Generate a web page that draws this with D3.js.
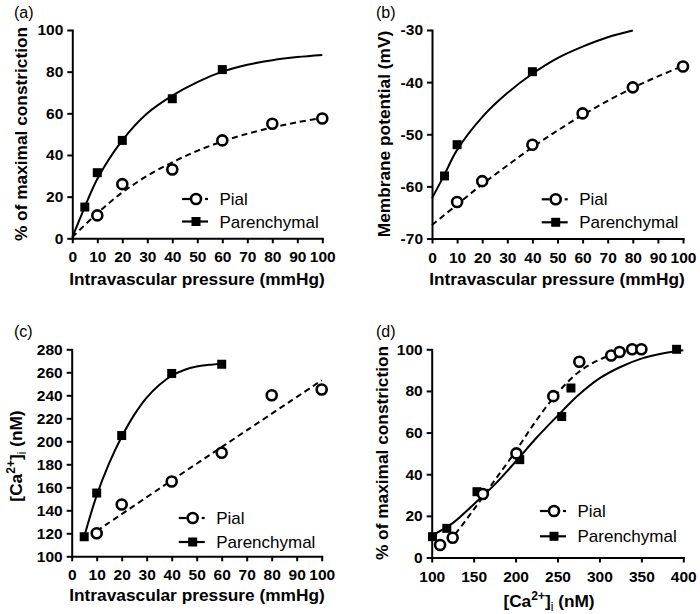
<!DOCTYPE html>
<html><head><meta charset="utf-8">
<script src="https://cdn.jsdelivr.net/npm/d3@7"></script>
<style>
body{margin:0;background:#fff}
text{font-family:"Liberation Sans",Arial,Helvetica,sans-serif}
</style>
</head><body>
<svg id="chart" width="700" height="614"></svg>
<script>
// ---------- DATA ----------
const seriesNames = ["Pial", "Parenchymal"];
const pressureTicks = [0,10,20,30,40,50,60,70,80,90,100];

// (a) % of maximal constriction vs pressure
const aPialX = [10,20,40,60,80,100];
const aPialY = [11,26,33,47,55,57.5];
const aParX  = [5,10,20,40,60];
const aParY  = [15,31.5,47,67,81];
const aPialFitX = [0,10,20,30,40,50,60,70,80,90,100];
const aPialFitY = [0.5,12,22,30,36.5,42,46.5,50.2,53.2,55.7,57.8];
const aParFitX  = [0,5,10,20,30,40,50,60,70,80,90,100];
const aParFitY  = [0.5,15,28.5,47,60,68.5,75,80,83.3,85.5,87,88];
const aYTicks = [0,20,40,60,80,100];

// (b) membrane potential vs pressure
const bPialX = [10,20,40,60,80,100];
const bPialY = [-63,-59,-52,-46,-41,-37];
const bParX  = [5,10,40];
const bParY  = [-58,-52,-38];
const bPialFitX = [0,10,20,30,40,50,60,70,80,90,100];
const bPialFitY = [-67.4,-63.5,-59.6,-56,-52.5,-49.3,-46.3,-43.6,-41.1,-38.9,-36.9];
const bParFitX  = [0,5,10,20,30,40,50,60,70,80];
const bParFitY  = [-62.3,-57.7,-53,-46.7,-42.1,-38.4,-35.4,-33.2,-31.4,-30.1];
const bYTicks = [-70,-60,-50,-40,-30];

// (c) [Ca2+]i vs pressure
const cPialX = [10,20,40,60,80,100];
const cPialY = [120,145,165,190,240,245];
const cParX  = [5,10,20,40,60];
const cParY  = [117,155,205,259,267];
const cPialFitX = [10,40,70,100];
const cPialFitY = [122,166,209.5,253];
const cParFitX  = [5,10,15,20,25,30,35,40,45,50,55,60];
const cParFitY  = [117,153,181,204,223,238,249,257,262,265,266.5,267.5];
const cYTicks = [100,120,140,160,180,200,220,240,260,280];

// (d) % of maximal constriction vs [Ca2+]i
const dPialX = [110,125,161,201,245,276,314,324,339,350];
const dPialY = [6,9.5,30.5,50,77.5,94,97,98.7,100,100];
const dParX  = [101,118,154,205,255,266,392];
const dParY  = [10,14,31.6,47,67.7,81.4,100];
const dPialFitX = [110,125,150,175,200,225,250,275,300,325,350];
const dPialFitY = [5,10,23,37,51,66,79,89,95,98.5,100];
const dParFitX  = [100,125,150,175,200,225,250,275,300,325,350,375,400];
const dParFitY  = [10.5,16.5,25.5,35,46,57.5,68,78,86,91.5,95.5,98,99.5];
const caTicks = [100,150,200,250,300,350,400];
const dYTicks = [0,20,40,60,80,100];

// ---------- DRAW ----------
const svg = d3.select("#chart");
const FONT = "'Liberation Sans',Arial,Helvetica,sans-serif";

function zip(xs, ys){ return xs.map((x,i)=>[x, ys[i]]); }

function panel(cfg){
  const g = svg.append("g");
  const x = d3.scaleLinear().domain(cfg.xDomain).range([cfg.x0, cfg.x1]);
  const y = d3.scaleLinear().domain(cfg.yDomain).range([cfg.yBot, cfg.yTop]);

  const xa = g.append("g").attr("transform", `translate(0,${cfg.yBot})`)
    .call(d3.axisBottom(x).tickValues(cfg.xTicks).tickSize(5).tickSizeOuter(0).tickPadding(8).tickFormat(d=>String(d)));
  const ya = g.append("g").attr("transform", `translate(${cfg.x0},0)`)
    .call(d3.axisLeft(y).tickValues(cfg.yTicks).tickSize(5).tickSizeOuter(0).tickPadding(4).tickFormat(d=>String(d)));
  [xa, ya].forEach(a=>{
    a.select(".domain").attr("stroke","#000").attr("stroke-width",2).attr("stroke-linecap","square");
    a.selectAll(".tick line").attr("stroke","#000").attr("stroke-width",2);
    a.selectAll(".tick text").attr("fill","#000").attr("font-family",FONT)
      .attr("font-size",15.5).attr("font-weight","bold");
  });

  const line = d3.line().x(d=>x(d[0])).y(d=>y(d[1])).curve(d3.curveCatmullRom.alpha(0.5));
  g.append("path").datum(zip(cfg.pialFitX, cfg.pialFitY)).attr("d", line)
    .attr("fill","none").attr("stroke","#000").attr("stroke-width",2).attr("stroke-dasharray","6,4");
  g.append("path").datum(zip(cfg.parFitX, cfg.parFitY)).attr("d", line)
    .attr("fill","none").attr("stroke","#000").attr("stroke-width",2);

  const S = 9;
  g.selectAll(".sq").data(zip(cfg.parX, cfg.parY)).enter().append("rect")
    .attr("x", d=>x(d[0])-S/2).attr("y", d=>y(d[1])-S/2).attr("width",S).attr("height",S).attr("fill","#000");
  g.selectAll(".ci").data(zip(cfg.pialX, cfg.pialY)).enter().append("circle")
    .attr("cx", d=>x(d[0])).attr("cy", d=>y(d[1])).attr("r",5)
    .attr("fill","#fff").attr("stroke","#000").attr("stroke-width",2.6);

  const L = cfg.legend;
  const lg = g.append("g");
  lg.append("line").attr("x1",L.cx-14).attr("x2",L.cx-6).attr("y1",L.y1).attr("y2",L.y1).attr("stroke","#000").attr("stroke-width",2.2);
  lg.append("line").attr("x1",L.cx+9).attr("x2",L.cx+12).attr("y1",L.y1).attr("y2",L.y1).attr("stroke","#000").attr("stroke-width",2.2);
  lg.append("circle").attr("cx",L.cx).attr("cy",L.y1).attr("r",5).attr("fill","#fff").attr("stroke","#000").attr("stroke-width",2.6);
  lg.append("line").attr("x1",L.cx-14).attr("x2",L.cx+12).attr("y1",L.y2).attr("y2",L.y2).attr("stroke","#000").attr("stroke-width",2.2);
  lg.append("rect").attr("x",L.cx-S/2).attr("y",L.y2-S/2).attr("width",S).attr("height",S).attr("fill","#000");
  [L.y1, L.y2].forEach((yy,i)=>{
    lg.append("text").attr("x",L.cx+23.5).attr("y",yy).attr("dy","0.36em")
      .attr("font-size",17).attr("font-family",FONT).attr("fill","#000").text(seriesNames[i]);
  });

  g.append("text").attr("x",cfg.labelX).attr("y",cfg.labelY).attr("font-size",16)
    .attr("font-family",FONT).attr("fill","#000").text(cfg.label);

  const xt = g.append("text").attr("x",cfg.xTitleX).attr("y",cfg.xTitleY).attr("text-anchor","middle")
    .attr("font-size",17.3).attr("font-weight","bold").attr("font-family",FONT).attr("fill","#000");
  cfg.xTitle(xt);
  const yt = g.append("text").attr("transform",`translate(${cfg.yTitleX},${cfg.yTitleY}) rotate(-90)`)
    .attr("text-anchor","middle").attr("font-size",17.3).attr("font-weight","bold")
    .attr("font-family",FONT).attr("fill","#000");
  cfg.yTitle(yt);
}

const plain = s => t => t.text(s);
const caTitle = t => {
  t.append("tspan").text("[Ca");
  t.append("tspan").attr("dy",-7).attr("font-size",12).text("2+");
  t.append("tspan").attr("dy",7).text("]");
  t.append("tspan").attr("dy",4).attr("font-size",12).attr("font-weight","normal").text("i");
  t.append("tspan").attr("dy",-4).text(" (nM)");
};

panel({label:"(a)", labelX:14, labelY:18,
  x0:72.3, x1:322.3, yTop:30, yBot:238.3, xDomain:[0,100], yDomain:[0,100],
  xTicks:pressureTicks, yTicks:aYTicks,
  pialX:aPialX, pialY:aPialY, parX:aParX, parY:aParY,
  pialFitX:aPialFitX, pialFitY:aPialFitY, parFitX:aParFitX, parFitY:aParFitY,
  legend:{cx:196, y1:199, y2:221.5},
  xTitle:plain("Intravascular pressure (mmHg)"), xTitleX:197, xTitleY:285,
  yTitle:plain("% of maximal constriction"), yTitleX:27, yTitleY:134});

panel({label:"(b)", labelX:376, labelY:18,
  x0:432, x1:683, yTop:30, yBot:238.5, xDomain:[0,100], yDomain:[-70,-30],
  xTicks:pressureTicks, yTicks:bYTicks,
  pialX:bPialX, pialY:bPialY, parX:bParX, parY:bParY,
  pialFitX:bPialFitX, pialFitY:bPialFitY, parFitX:bParFitX, parFitY:bParFitY,
  legend:{cx:555.7, y1:199.3, y2:222.3},
  xTitle:plain("Intravascular pressure (mmHg)"), xTitleX:557, xTitleY:285,
  yTitle:plain("Membrane potential (mV)"), yTitleX:390, yTitleY:134});

panel({label:"(c)", labelX:14, labelY:337,
  x0:71.7, x1:321.7, yTop:349.3, yBot:556.3, xDomain:[0,100], yDomain:[100,280],
  xTicks:pressureTicks, yTicks:cYTicks,
  pialX:cPialX, pialY:cPialY, parX:cParX, parY:cParY,
  pialFitX:cPialFitX, pialFitY:cPialFitY, parFitX:cParFitX, parFitY:cParFitY,
  legend:{cx:192.7, y1:518, y2:542},
  xTitle:plain("Intravascular pressure (mmHg)"), xTitleX:197, xTitleY:601,
  yTitle:caTitle, yTitleX:22, yTitleY:456});

panel({label:"(d)", labelX:376, labelY:337,
  x0:431.7, x1:683.3, yTop:349.3, yBot:557.5, xDomain:[100,400], yDomain:[0,100],
  xTicks:caTicks, yTicks:dYTicks,
  pialX:dPialX, pialY:dPialY, parX:dParX, parY:dParY,
  pialFitX:dPialFitX, pialFitY:dPialFitY, parFitX:dParFitX, parFitY:dParFitY,
  legend:{cx:554, y1:511, y2:536.3},
  xTitle:caTitle, xTitleX:549, xTitleY:607,
  yTitle:plain("% of maximal constriction"), yTitleX:388, yTitleY:453});
</script>
</body></html>
